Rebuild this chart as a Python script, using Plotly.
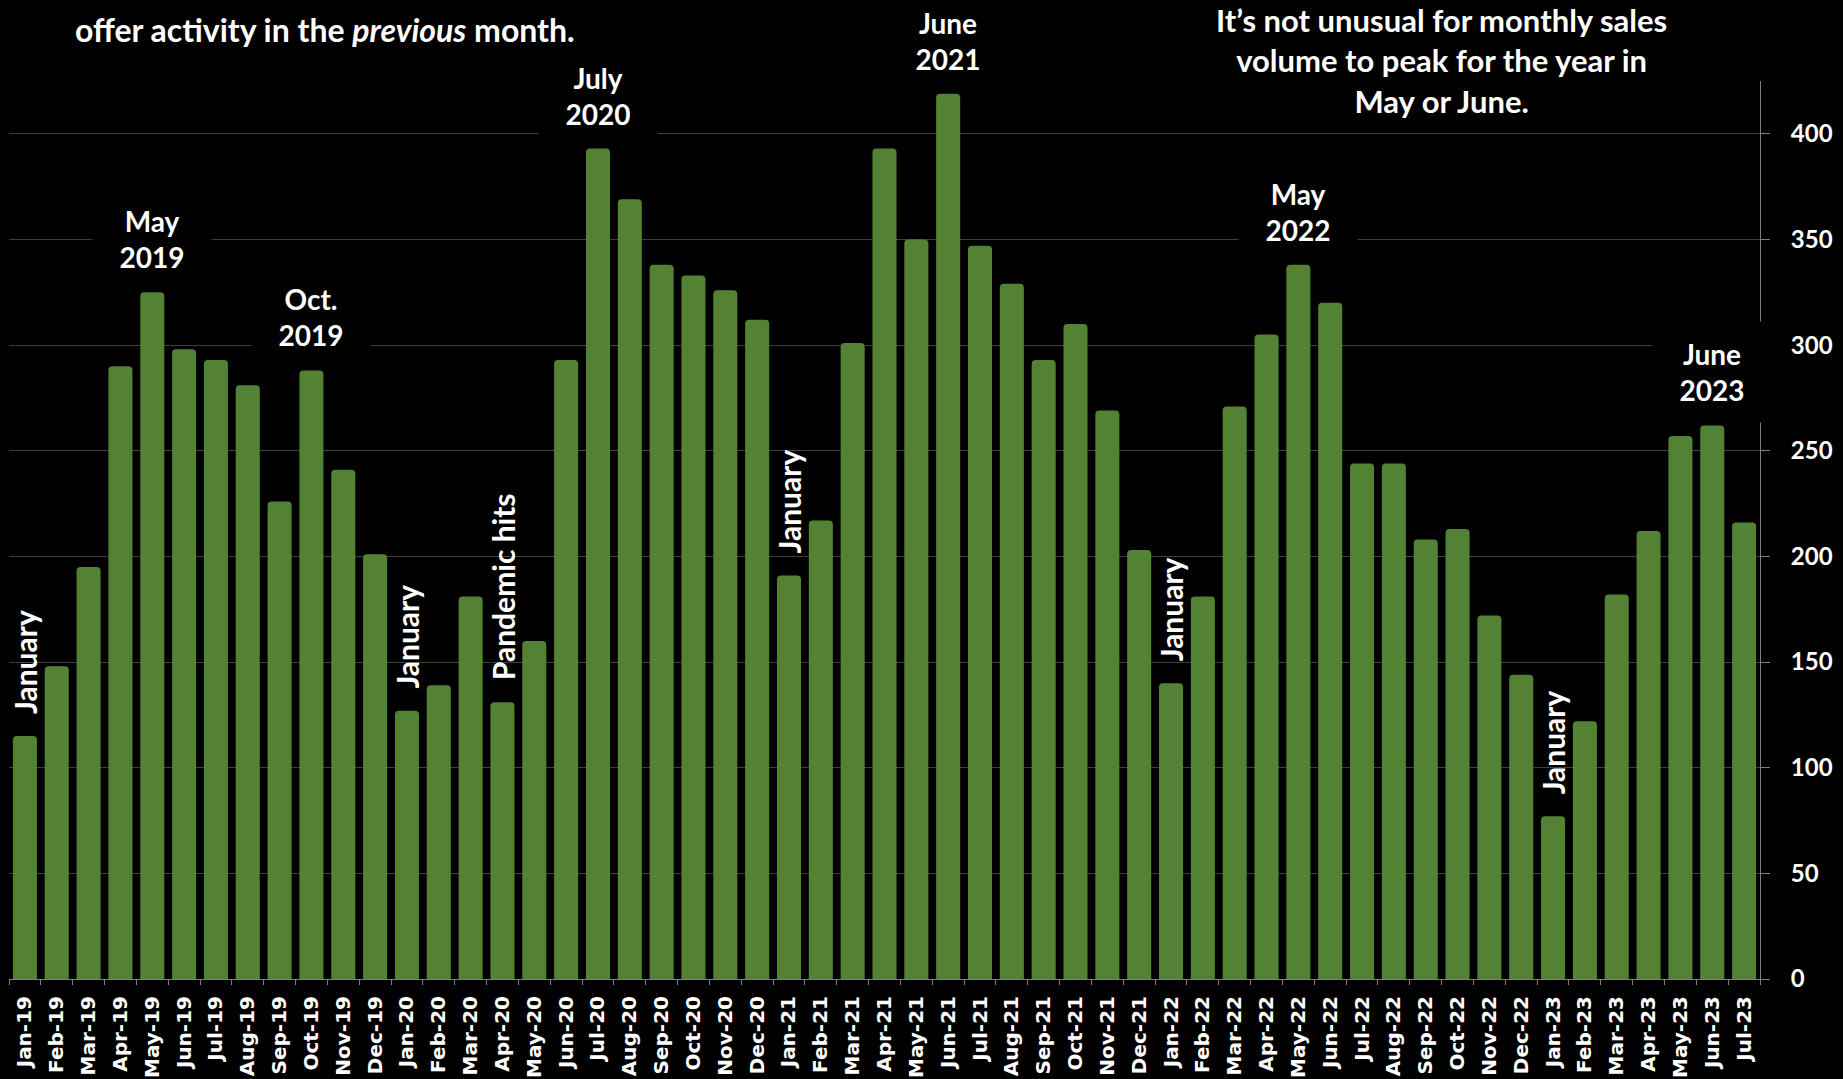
import plotly.graph_objects as go

months = ["Jan-19","Feb-19","Mar-19","Apr-19","May-19","Jun-19","Jul-19","Aug-19","Sep-19","Oct-19","Nov-19","Dec-19",
          "Jan-20","Feb-20","Mar-20","Apr-20","May-20","Jun-20","Jul-20","Aug-20","Sep-20","Oct-20","Nov-20","Dec-20",
          "Jan-21","Feb-21","Mar-21","Apr-21","May-21","Jun-21","Jul-21","Aug-21","Sep-21","Oct-21","Nov-21","Dec-21",
          "Jan-22","Feb-22","Mar-22","Apr-22","May-22","Jun-22","Jul-22","Aug-22","Sep-22","Oct-22","Nov-22","Dec-22",
          "Jan-23","Feb-23","Mar-23","Apr-23","May-23","Jun-23","Jul-23"]
sales = [115,148,195,290,325,298,293,281,226,288,241,201,
         127,139,181,131,160,293,393,369,338,333,326,312,
         191,217,301,393,350,419,347,329,293,310,269,203,
         140,181,271,305,338,320,244,244,208,213,172,144,
         77,122,182,212,257,262,216]

peak_labels = [("May-19","May<br>2019"),("Oct-19","Oct.<br>2019"),("Jul-20","July<br>2020"),
               ("Jun-21","June<br>2021"),("May-22","May<br>2022"),("Jun-23","June<br>2023")]
vertical_labels = [("Jan-19","January"),("Jan-20","January"),("Apr-20","Pandemic hits"),
                   ("Jan-21","January"),("Jan-22","January"),("Jan-23","January")]

note_left = "offer activity in the <i>previous</i> month."
note_right = "It’s not unusual for monthly sales<br>volume to peak for the year in<br>May or June."

GREEN = "#548235"
PEAK_FONT = dict(family="Lato", size=28, color="white", weight="bold")
VERT_FONT = dict(family="Lato", size=30, color="white", weight="bold")
NOTE_FONT = dict(family="Lato", size=32, color="white", weight="bold")
NOTE_R_FONT = dict(family="Lato", size=31, color="white", weight="bold")
XTICK_FONT = dict(family="DejaVu Sans", size=20, color="white", weight="bold")
YTICK_FONT = dict(family="Lato", size=24, color="white", weight="bold")

fig = go.Figure(go.Bar(x=months, y=sales, marker=dict(color=GREEN, cornerradius=4, line=dict(width=0))))

L, R, T, B = 9, 83, 81, 100
W, H = 1843, 1079
pw, ph = W - L - R, H - T - B

val = dict(zip(months, sales))
ann = []
for m, t in peak_labels:
    ann.append(dict(x=m, y=val[m], xref="x", yref="y", text=t, showarrow=False,
                    yanchor="bottom", xanchor="center", bgcolor="black", width=118, height=100,
                    borderpad=0, yshift=2, font=PEAK_FONT))
for m, t in vertical_labels:
    ann.append(dict(x=m, y=val[m], xref="x", yref="y", text=t, showarrow=False, textangle=-90,
                    yanchor="bottom", xanchor="center", yshift=20, font=VERT_FONT))
ann.append(dict(x=(325 - L) / pw, y=(H - 30 - B) / ph, xref="paper", yref="paper", text=note_left,
                showarrow=False, font=NOTE_FONT, xanchor="center", yanchor="middle", borderpad=0))
ann.append(dict(x=(1441 - L) / pw, y=(H - 61 - B) / ph, xref="paper", yref="paper", text=note_right,
                showarrow=False, font=NOTE_R_FONT, xanchor="center", yanchor="middle", align="center",
                borderpad=0))

fig.update_layout(
    width=W, height=H, margin=dict(l=L, r=R, t=T, b=B),
    paper_bgcolor="black", plot_bgcolor="black",
    bargap=0.245, showlegend=False, annotations=ann,
    xaxis=dict(type="category", tickangle=-90, tickfont=XTICK_FONT, ticks="outside", tickson="boundaries",
               ticklen=5, tickcolor="#7f7f7f", showline=True, linecolor="#7f7f7f", linewidth=1,
               showgrid=False, range=[-0.5, len(months) - 0.5], ticklabelstandoff=8, automargin=False),
    yaxis=dict(side="right", range=[0, 425], dtick=50, tickfont=YTICK_FONT, gridcolor="#404040",
               showline=True, linecolor="#7f7f7f", ticks="outside", ticklen=9, tickcolor="#7f7f7f",
               zeroline=False, ticklabelstandoff=16, automargin=False),
)

fig.write_html("out.html")
